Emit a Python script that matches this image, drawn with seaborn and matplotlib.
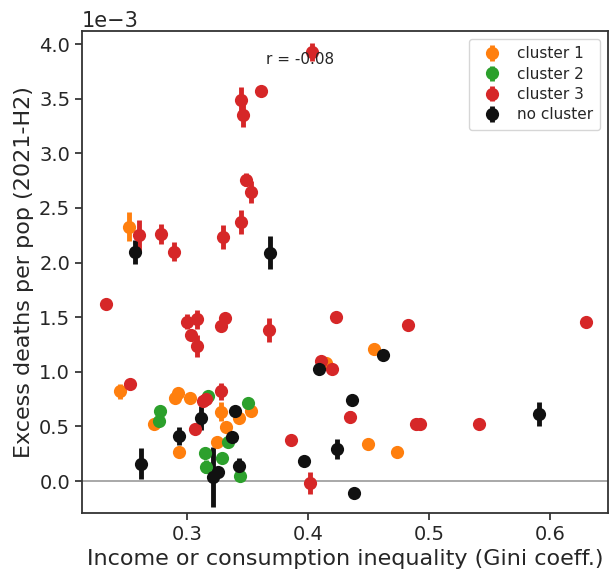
import numpy as np
import matplotlib
matplotlib.use("Agg")
import matplotlib.pyplot as plt
import seaborn as sns

# ---- data (y in units of 1e-3) ----
c1_x = [0.2523, 0.415, 0.4545, 0.2446, 0.2727, 0.2937, 0.290, 0.2928, 0.3025, 0.328, 0.343, 0.3527, 0.332, 0.3245, 0.4493, 0.4733]
c1_y = [2.33, 1.08, 1.21, 0.82, 0.52, 0.27, 0.76, 0.81, 0.76, 0.635, 0.58, 0.64, 0.49, 0.36, 0.336, 0.263]
c1_e = [0.13, 0.0, 0.0, 0.07, 0.0, 0.0, 0.0, 0.0, 0.0, 0.09, 0.0, 0.03, 0.0, 0.0, 0.0, 0.0]

c2_x = [0.2777, 0.277, 0.3176, 0.3507, 0.3336, 0.315, 0.3155, 0.329, 0.3438]
c2_y = [0.64, 0.55, 0.78, 0.71, 0.354, 0.26, 0.13, 0.21, 0.05]
c2_e = [0.0, 0.03, 0.0, 0.0, 0.0, 0.0, 0.06, 0.0, 0.0]

c3_x = [0.403, 0.361, 0.345, 0.346, 0.349, 0.353, 0.2606, 0.2785, 0.2895, 0.330, 0.345, 0.233,
        0.2997, 0.308, 0.303, 0.308, 0.3285, 0.3314, 0.368, 0.4228, 0.411, 0.4196, 0.483, 0.630,
        0.2529, 0.3066, 0.313, 0.3157, 0.328, 0.3857, 0.4017, 0.4347, 0.489, 0.493, 0.5416]
c3_y = [3.93, 3.57, 3.49, 3.35, 2.76, 2.65, 2.25, 2.26, 2.10, 2.23, 2.37, 1.62,
        1.46, 1.48, 1.34, 1.24, 1.42, 1.49, 1.38, 1.50, 1.10, 1.03, 1.43, 1.46,
        0.885, 0.476, 0.735, 0.75, 0.82, 0.375, -0.02, 0.59, 0.52, 0.52, 0.52]
c3_e = [0.08, 0.0, 0.12, 0.11, 0.06, 0.10, 0.14, 0.09, 0.09, 0.11, 0.11, 0.04,
        0.07, 0.09, 0.03, 0.10, 0.03, 0.03, 0.11, 0.0, 0.0, 0.0, 0.0, 0.0,
        0.04, 0.0, 0.05, 0.05, 0.08, 0.0, 0.10, 0.05, 0.0, 0.0, 0.0]

nc_x = [0.257, 0.3686, 0.409, 0.4617, 0.2617, 0.2934, 0.3113, 0.340, 0.3375, 0.3218, 0.326,
        0.343, 0.397, 0.4366, 0.4242, 0.4383, 0.591]
nc_y = [2.10, 2.09, 1.03, 1.15, 0.16, 0.41, 0.574, 0.64, 0.40, 0.035, 0.085,
        0.14, 0.18, 0.74, 0.293, -0.107, 0.61]
nc_e = [0.11, 0.15, 0.0, 0.0, 0.14, 0.08, 0.11, 0.03, 0.0, 0.275, 0.0,
        0.07, 0.0, 0.0, 0.09, 0.0, 0.11]

labels = ["cluster 1", "cluster 2", "cluster 3", "no cluster"]
r_text = "r = -0.08"

sns.set_style("ticks")
plt.rcParams['font.family'] = ['DejaVu Sans']

fig = plt.figure(figsize=(6.13, 5.75), dpi=100)
ax = fig.add_axes([0.1338, 0.1078, 0.8580, 0.8382])

colors = ["#ff7f0e", "#2ca02c", "#d62728", "#111111"]
series = [(c1_x, c1_y, c1_e), (c2_x, c2_y, c2_e), (c3_x, c3_y, c3_e), (nc_x, nc_y, nc_e)]

ax.axhline(0, color="#999999", lw=1.2, zorder=0)
for (xs, ys, es), col, lab in zip(series, colors, labels):
    ax.errorbar(np.array(xs), np.array(ys) * 1e-3, yerr=np.array(es) * 1e-3,
                fmt="o", color=col, ecolor=col, elinewidth=3.5, capsize=0,
                markersize=9.5, markeredgewidth=0, label=lab)

ax.set_xlim(0.2132, 0.648)
ax.set_ylim(-0.293e-3, 4.12e-3)
ax.set_xticks([0.3, 0.4, 0.5, 0.6])
ax.set_yticks(np.arange(0, 4.01, 0.5) * 1e-3)
ax.ticklabel_format(axis="y", style="sci", scilimits=(-3, -3))
ax.tick_params(labelsize=14, length=5, width=1.2)
ax.yaxis.get_offset_text().set_fontsize(15)

for sp in ax.spines.values():
    sp.set_linewidth(1.3)
    sp.set_color("#333333")

ax.set_xlabel("Income or consumption inequality (Gini coeff.)", fontsize=16)
ax.set_ylabel("Excess deaths per pop (2021-H2)", fontsize=16)

ax.text(0.35, 0.94, r_text, transform=ax.transAxes, fontsize=11, va="center")

ax.legend(loc="upper right", fontsize=11, frameon=True, handletextpad=0.6,
          borderpad=0.5, labelspacing=0.35)

fig.savefig("out.png", dpi=100)
